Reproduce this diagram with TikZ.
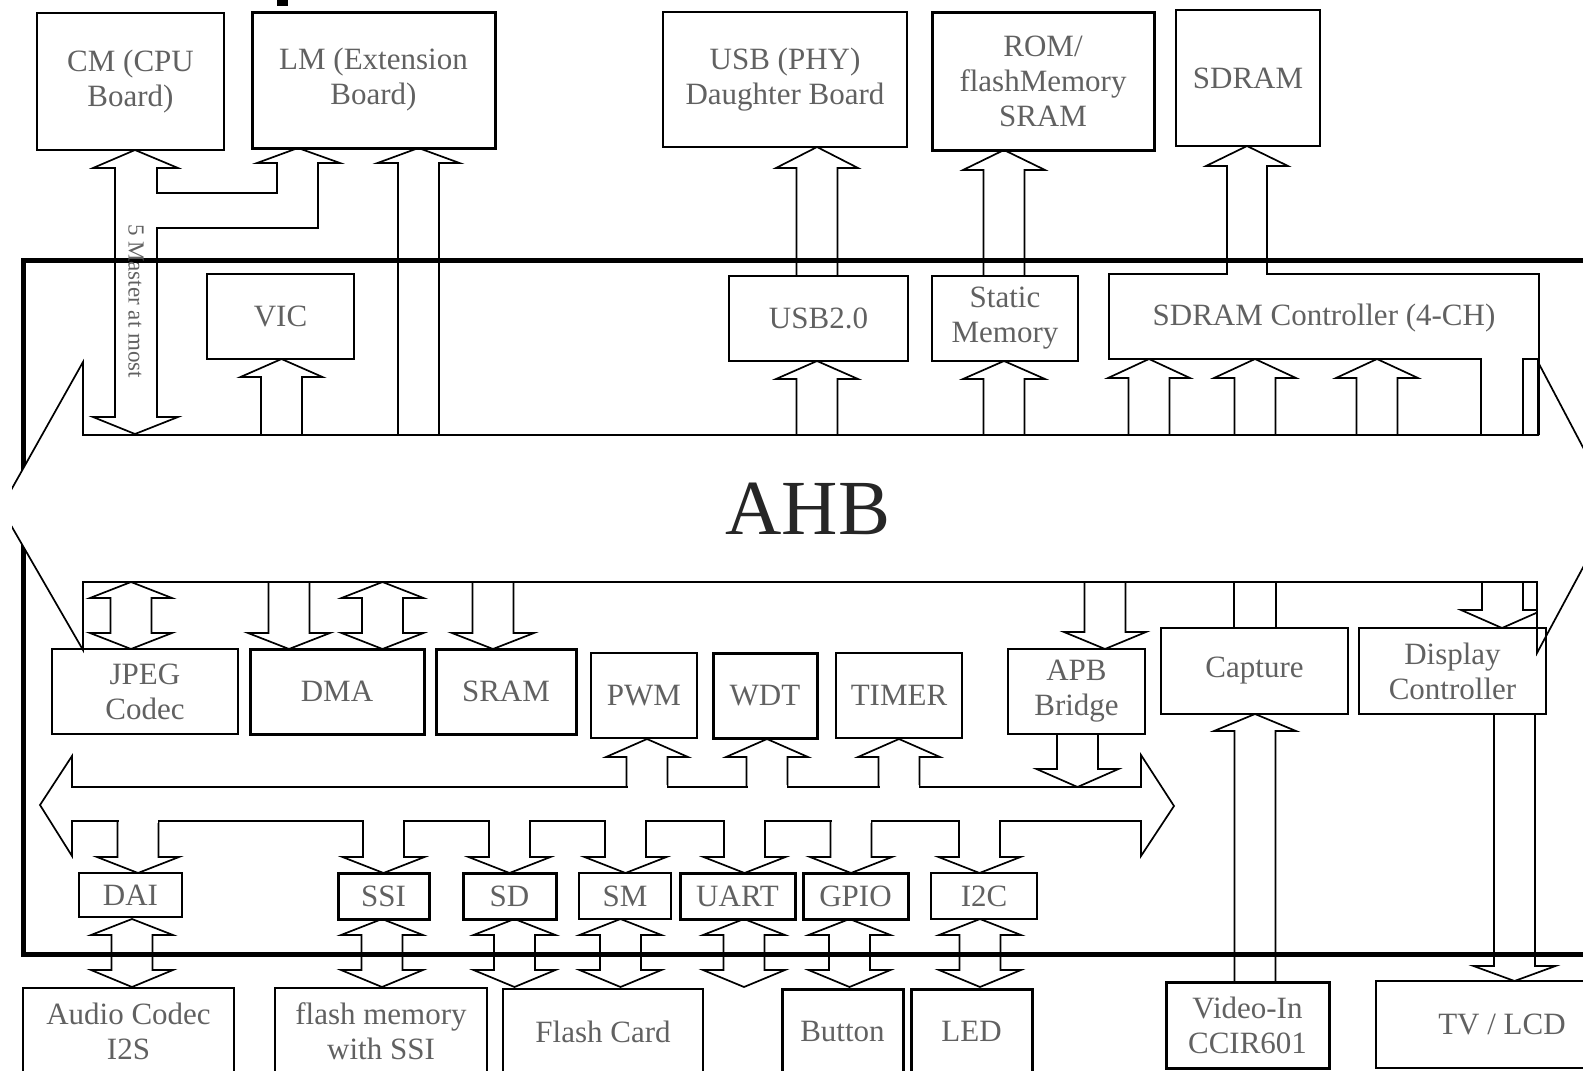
\documentclass[tikz,border=0pt]{standalone}
\usepackage{fontspec}
\setmainfont{Liberation Serif}
\newcommand\boxfont{\fontsize{31}{35}\selectfont}
% hollow block arrow: centre x, tip y, head-base y, shaft end y
\newcommand\blockarrow[4]{\draw[arr] ({#1-20.5},#4) -- ({#1-20.5},#3) -- ({#1-41},#3) -- (#1,#2) -- ({#1+41},#3) -- ({#1+20.5},#3) -- ({#1+20.5},#4);}
% hollow double-headed arrow: centre x, tip 1, base 1, base 2, tip 2
\newcommand\twinarrow[5]{\draw[arr] ({#1-20.5},#3) -- ({#1-41},#3) -- (#1,#2) -- ({#1+41},#3) -- ({#1+20.5},#3) -- ({#1+20.5},#4) -- ({#1+41},#4) -- (#1,#5) -- ({#1-41},#4) -- ({#1-20.5},#4) -- cycle;}
% opening in the APB bus outline where a shaft joins it
\newcommand\busgap[2]{\fill[white] ({#1-19.5},{#2-2}) rectangle ({#1+19.5},{#2+2});}
\tikzset{
  box/.style={draw, inner sep=0pt, align=center, font=\boxfont, text=black!62},
  thinbox/.style={box, line width=1.3pt},
  midbox/.style={box, line width=2pt},
  heavybox/.style={box, line width=3pt},
  arr/.style={line width=1.7pt, line join=miter},
  frame/.style={line width=5pt, line join=miter},
  lbl/.style={font=\boxfont, text=black!62, align=center}
}
\begin{document}
\begin{tikzpicture}[x=1pt,y=-1pt]
\useasboundingbox (0,0) rectangle (1583,1071);
\fill (277,0) rectangle (288,6);

% chip outline
\draw[frame] (1600,260) -- (23,260) -- (23,954) -- (1600,954);

% AHB bus
\begin{scope}
  \clip (12,0) rectangle (1583,1071);
  \draw[arr, fill=white] (83,435) -- (83,362) -- (1,508) -- (83,650) -- (83,582)
    -- (1537,582) -- (1537,653) -- (1615,508) -- (1538,362) -- (1538,435) -- cycle;
\end{scope}
\node[font=\fontsize{78}{80}\selectfont, text=black!85] (ahb) at (808,509) {AHB};

% off-chip boards and memories
\node[thinbox, minimum width=187pt, minimum height=137pt] (cm) at (130.5,81.5) {CM (CPU\\Board)};
\node[heavybox, minimum width=243pt, minimum height=136pt] (lm) at (373.5,80) {LM (Extension\\Board)};
\node[midbox, minimum width=244pt, minimum height=135pt] (usbphy) at (785,79.5) {USB (PHY)\\Daughter Board};
\node[heavybox, minimum width=222pt, minimum height=138pt] (rom) at (1043,81) {ROM/\\flashMemory\\SRAM};
\node[thinbox, minimum width=144pt, minimum height=136pt] (sdram) at (1248,78) {SDRAM};

% AHB masters / slaves above the bus
\node[midbox, minimum width=147pt, minimum height=85pt] (vic) at (280.5,316.5) {VIC};
\node[midbox, minimum width=179pt, minimum height=85pt] (usb2) at (818.5,318.5) {USB2.0};
\node[midbox, minimum width=146pt, minimum height=85pt] (stmem) at (1005,318.5) {Static\\Memory};
\draw[arr] (1481,435) -- (1481,359) -- (1109,359) -- (1109,274) -- (1227,274) -- (1227,166)
  -- (1206,166) -- (1247,146) -- (1288,166) -- (1267,166) -- (1267,274) -- (1539,274) -- (1539,435);
\draw[arr] (1523,435) -- (1523,359) -- (1539,359);
\node[lbl] (sdramctrl) at (1324,318) {SDRAM Controller (4-CH)};

% CM / LM master port
\draw[arr] (115,168) -- (93,168) -- (135,150) -- (178,168) -- (157,168) -- (157,193) -- (277,193)
  -- (277,163) -- (257,163) -- (298,148) -- (340,163) -- (318,163) -- (318,228) -- (157,228)
  -- (157,417) -- (178,417) -- (135,434) -- (93,417) -- (115,417) -- cycle;
\node[font=\fontsize{23}{26}\selectfont, text=black!62, rotate=-90] (master) at (136,301) {5 Master at most};
\blockarrow{418.5}{148}{163}{435}
\blockarrow{281.5}{359}{377}{435}
\blockarrow{817}{147}{168}{276}
\blockarrow{817}{361}{379}{435}
\blockarrow{1004}{150}{170}{276}
\blockarrow{1004}{361}{379}{435}
\blockarrow{1149}{359}{378}{435}
\blockarrow{1255}{359}{378}{435}
\blockarrow{1377}{359}{378}{435}

% blocks below the AHB
\node[thinbox, minimum width=186pt, minimum height=85pt] (jpeg) at (145,691.5) {JPEG\\Codec};
\node[heavybox, minimum width=174pt, minimum height=85pt] (dma) at (337,691.5) {DMA};
\node[heavybox, minimum width=140pt, minimum height=85pt] (sram) at (506,691.5) {SRAM};
\node[thinbox, minimum width=106pt, minimum height=85pt] (pwm) at (644,695.5) {PWM};
\node[heavybox, minimum width=104pt, minimum height=85pt] (wdt) at (765,695.5) {WDT};
\node[midbox, minimum width=126pt, minimum height=85pt] (timer) at (899,695.5) {TIMER};
\node[midbox, minimum width=137pt, minimum height=85pt] (apb) at (1076.5,691.5) {APB\\Bridge};
\node[midbox, minimum width=187pt, minimum height=86pt] (capture) at (1254.5,671) {Capture};
\node[midbox, minimum width=187pt, minimum height=86pt] (disp) at (1452.5,671) {Display\\Controller};

\twinarrow{131}{582}{598}{633}{649}
\blockarrow{289}{649}{633}{582}
\twinarrow{382.5}{582}{598}{633}{649}
\blockarrow{493}{649}{633}{582}
\blockarrow{1105}{649}{632}{582}
\draw[arr] (1234,582) -- (1234,628);
\draw[arr] (1276,582) -- (1276,628);
\draw[arr] (1482,582) -- (1482,610) -- (1461,610) -- (1502,628) -- (1537,612.6);
\draw[arr] (1523,582) -- (1523,610) -- (1537,610);

% APB bus
\draw[arr, fill=white] (72,787) -- (72,756) -- (40,805) -- (72,856) -- (72,821) -- (1141,821)
  -- (1141,856) -- (1174,806) -- (1141,755) -- (1141,787) -- cycle;
\blockarrow{647}{739}{757}{787.85}   \busgap{647}{787}
\blockarrow{767}{739}{757}{787.85}   \busgap{767}{787}
\blockarrow{899}{739}{757}{787.85}   \busgap{899}{787}
\blockarrow{1077.5}{787}{769}{734}

% APB peripherals
\node[thinbox, minimum width=103pt, minimum height=44pt] (dai) at (130.5,895) {DAI};
\node[heavybox, minimum width=91pt, minimum height=46pt] (ssi) at (383.5,896) {SSI};
\node[heavybox, minimum width=93pt, minimum height=46pt] (sd) at (509.5,896) {SD};
\node[midbox, minimum width=92pt, minimum height=46pt] (sm) at (625,896) {SM};
\node[heavybox, minimum width=115pt, minimum height=46pt] (uart) at (737.5,896) {UART};
\node[heavybox, minimum width=105pt, minimum height=46pt] (gpio) at (855.5,896) {GPIO};
\node[thinbox, minimum width=106pt, minimum height=46pt] (i2c) at (984,896) {I2C};

\blockarrow{138}{873}{857}{820.15}    \busgap{138}{821}
\blockarrow{383.5}{873}{857}{820.15}  \busgap{383.5}{821}
\blockarrow{509.5}{873}{857}{820.15}  \busgap{509.5}{821}
\blockarrow{625.5}{873}{857}{820.15}  \busgap{625.5}{821}
\blockarrow{744.5}{873}{857}{820.15}  \busgap{744.5}{821}
\blockarrow{851}{873}{857}{820.15}    \busgap{851}{821}
\blockarrow{979.5}{873}{857}{820.15}  \busgap{979.5}{821}

% off-chip devices
\node[thinbox, minimum width=211pt, minimum height=86pt] (audio) at (128.5,1031) {Audio Codec\\I2S};
\node[midbox, minimum width=212pt, minimum height=86pt] (flashmem) at (381,1031) {flash memory\\with SSI};
\node[midbox, minimum width=200pt, minimum height=85pt] (flashcard) at (603,1031.5) {Flash Card};
\node[heavybox, minimum width=121pt, minimum height=85pt] (button) at (842.5,1031.5) {Button};
\node[heavybox, minimum width=121pt, minimum height=85pt] (led) at (971.5,1031.5) {LED};
\node[heavybox, minimum width=163pt, minimum height=86pt] (videoin) at (1247.5,1025) {Video-In\\CCIR601};
\node[thinbox, minimum width=252pt, minimum height=87pt] (tv) at (1502,1024.5) {TV / LCD};

\twinarrow{132}{919}{935}{970}{987}
\twinarrow{382}{919}{935}{970}{987}
\twinarrow{514.5}{919}{935}{970}{987}
\twinarrow{620.5}{919}{935}{970}{987}
\twinarrow{744}{919}{935}{970}{987}
\twinarrow{849.5}{919}{935}{970}{987}
\twinarrow{980}{919}{935}{970}{987}
\blockarrow{1255}{714}{731}{982}
\blockarrow{1514.5}{981}{966}{714}
\end{tikzpicture}
\end{document}
